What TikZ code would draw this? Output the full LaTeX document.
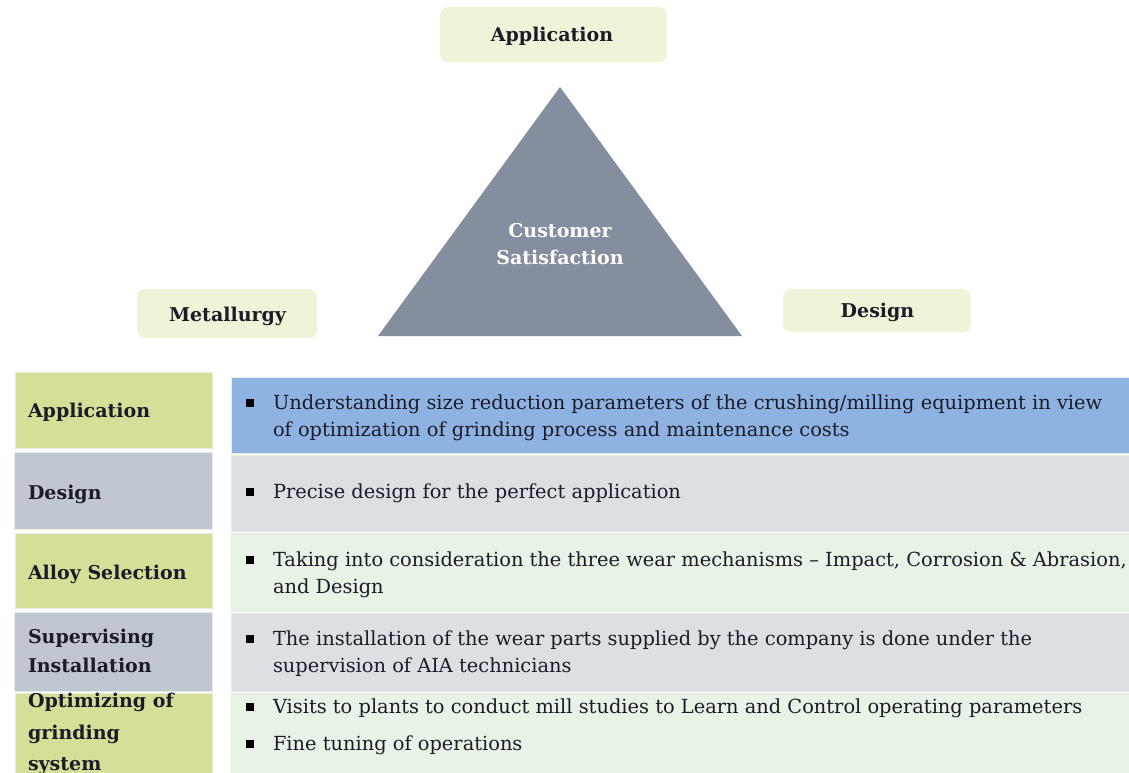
\documentclass[tikz,border=0pt]{standalone}
\usepackage{fontspec}
\setmainfont{DejaVu Serif}
\definecolor{cellolive}{HTML}{D7DE98}
\definecolor{cellgrey}{HTML}{C1C7D1}
\definecolor{rowblue}{HTML}{8EB3E2}
\definecolor{rowgrey}{HTML}{DCE0E5}
\definecolor{rowgreen}{HTML}{E6F3E5}
\definecolor{tagfill}{HTML}{EEF4D7}
\definecolor{trifill}{HTML}{848E9E}
\definecolor{cellline}{HTML}{E3EEDF}
\definecolor{ink}{HTML}{1C1C28}
\begin{document}
\begin{tikzpicture}[x=1pt,y=-1pt,
  every node/.style={inner sep=0pt,outer sep=0pt},
  txt/.style={font=\fontsize{19.4}{27}\selectfont,text=ink,anchor=base west},
  lbl/.style={txt,font=\fontsize{19}{27}\selectfont\bfseries},
  tag/.style={fill=tagfill,rounded corners=8pt},
  cell/.style={draw=cellline,line width=0.8pt,anchor=north west},
  bul/.style={fill=black,minimum size=8pt}]
\useasboundingbox (0,0) rectangle (1129,772);

% pillars around the triangle
\node[tag,minimum width=227pt,minimum height=55pt] (tapp) at (553.5,34.5) {};
\node[lbl,anchor=base] (tappt) at (552,41) {Application};
\node[tag,minimum width=180pt,minimum height=49pt] (tmet) at (227,313.5) {};
\node[lbl,anchor=base] (tmett) at (227.5,321) {Metallurgy};
\node[tag,minimum width=188pt,minimum height=43pt] (tdes) at (877,310.5) {};
\node[lbl,anchor=base] (tdest) at (877.5,317) {Design};

% central triangle
\fill[trifill] (560,87) -- (742,336) -- (378,336) -- cycle;
\node[lbl,anchor=base,text=white] (cs1) at (560,237) {Customer};
\node[lbl,anchor=base,text=white] (cs2) at (560,264) {Satisfaction};

% table: left column
\node[cell,fill=cellolive,minimum width=197pt,minimum height=76pt] (l1) at (15,372) {};
\node[cell,fill=cellgrey,minimum width=198pt,minimum height=77pt] (l2) at (14,452) {};
\node[cell,fill=cellolive,minimum width=197pt,minimum height=75pt] (l3) at (15,533) {};
\node[cell,fill=cellgrey,minimum width=198pt,minimum height=79pt] (l4) at (14,612) {};
\node[cell,fill=cellolive,minimum width=197pt,minimum height=85pt] (l5) at (15,693) {};

% table: right column
\node[cell,fill=rowblue,minimum width=900pt,minimum height=76pt] (r1) at (231,377) {};
\node[cell,fill=rowgrey,minimum width=900pt,minimum height=76pt] (r2) at (231,455) {};
\node[cell,fill=rowgreen,minimum width=900pt,minimum height=78pt] (r3) at (231,533) {};
\node[cell,fill=rowgrey,minimum width=900pt,minimum height=78pt] (r4) at (231,613) {};
\node[cell,fill=rowgreen,minimum width=900pt,minimum height=85pt] (r5) at (231,693) {};

% row headings
\node[lbl] (h1) at (28,417) {Application};
\node[lbl] (h2) at (28,499) {Design};
\node[lbl] (h3) at (28,579) {Alloy Selection};
\node[lbl] (h4a) at (28,643) {Supervising};
\node[lbl] (h4b) at (28,672) {Installation};
\node[lbl] (h5a) at (28,707) {Optimizing of};
\node[lbl] (h5b) at (28,739) {grinding};
\node[lbl] (h5c) at (28,770) {system};

% bullets
\node[bul] (b1) at (250,403.3) {};
\node[bul] (b2) at (250,492.3) {};
\node[bul] (b3) at (250,560.3) {};
\node[bul] (b4) at (250,639.3) {};
\node[bul] (b5) at (250,707.3) {};
\node[bul] (b6) at (250,744.3) {};

% row contents
\node[txt] (t1a) at (273,409) {Understanding size reduction parameters of the crushing/milling equipment in view};
\node[txt] (t1b) at (273,436) {of optimization of grinding process and maintenance costs};
\node[txt] (t2) at (273,498) {Precise design for the perfect application};
\node[txt] (t3a) at (273,566) {Taking into consideration the three wear mechanisms – Impact, Corrosion \& Abrasion,};
\node[txt] (t3b) at (273,593) {and Design};
\node[txt] (t4a) at (273,645) {The installation of the wear parts supplied by the company is done under the};
\node[txt] (t4b) at (273,672) {supervision of AIA technicians};
\node[txt] (t5a) at (273,713) {Visits to plants to conduct mill studies to Learn and Control operating parameters};
\node[txt] (t5b) at (273,750) {Fine tuning of operations};
\end{tikzpicture}
\end{document}
